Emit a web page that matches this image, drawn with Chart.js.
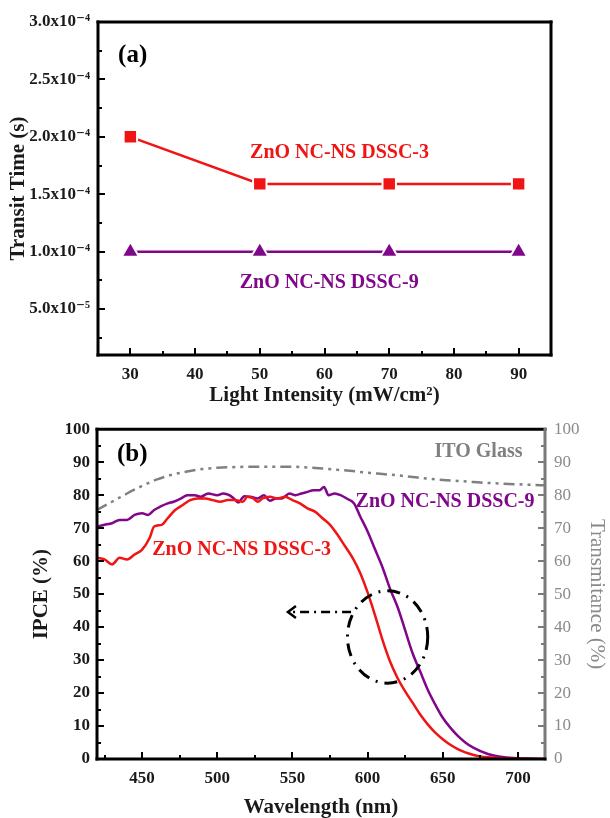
<!DOCTYPE html>
<html>
<head>
<meta charset="utf-8">
<script src="https://cdn.jsdelivr.net/npm/chart.js@4.4.0/dist/chart.umd.min.js"></script>
<style>
  html, body { margin: 0; padding: 0; background: #fff; }
  #chartA { position: absolute; left: 0; top: 0; }
  #chartB { position: absolute; left: 0; top: 410px; }
</style>
</head>
<body>
<canvas id="chartA" width="610" height="410"></canvas>
<canvas id="chartB" width="610" height="408"></canvas>
<script>
// (a) transit time vs light intensity
const intensity = [30, 50, 70, 90];
const transitDSSC3 = [2.0e-4, 1.59e-4, 1.59e-4, 1.59e-4];
const transitDSSC9 = [1.0e-4, 1.0e-4, 1.0e-4, 1.0e-4];
const intensityTicks = [30, 40, 50, 60, 70, 80, 90];
const intensityMinor = [35, 45, 55, 65, 75, 85];
const transitTicks = [5e-5, 1e-4, 1.5e-4, 2e-4, 2.5e-4, 3e-4];
const transitMinor = [2.5e-5, 7.5e-5, 1.25e-4, 1.75e-4, 2.25e-4, 2.75e-4];

// (b) IPCE / transmittance vs wavelength
const wlDSSC3 = [420,425,430,435,440,445,450,455,458,463,467,472,477,482,487,492,497,502,507,512,517,520,524,527,530,535,540,545,550,555,560,565,570,575,580,585,590,595,600,605,610,615,620,625,630,635,640,645,650,655,660,665,670,675,680,690,700,710,718];
const ipceDSSC3 = [61,60.5,59,61,60.5,62,63.5,67,70.5,71,73,75.5,77,78.5,79,79,78.5,78,78.5,78.5,78,79.5,79,78,79,79.5,79,79.5,78.5,77.5,76,75,73,71,68,64.5,61,56.5,50.5,43.5,36,29.5,24.5,20.5,17,13.5,10.5,8,6,4.3,3,2,1.3,0.8,0.5,0.2,0.1,0,0];
const wlDSSC9 = [420,425,430,435,440,445,450,454,458,462,467,471,476,480,485,489,494,500,504,508,511,514,518,522,527,531,535,539,543,548,552,556,560,564,568,571,574,578,582,586,591,595,600,605,610,615,620,625,630,635,640,645,650,655,660,665,670,680,690,700,710,718];
const ipceDSSC9 = [70.5,71,71.5,72.5,72.5,74,74.5,74,75.5,76.5,77.5,78,79,80,80,79.5,80.5,80,80.5,80,79,77.8,79.7,79.5,79,80,78.3,79,79,80.5,80,80.5,81,81.5,81.5,82.5,80,80.5,80,79,77.5,73.6,69,63.5,58,51.5,46,39,32,26.5,21,16.5,12.5,9.5,7,5,3.5,1.5,0.6,0.2,0.1,0];
const wlITO = [420,430,440,450,460,470,480,490,500,510,520,530,540,550,560,570,580,590,600,610,620,630,640,650,660,670,680,690,700,710,718];
const transITO = [75.5,78,80.5,82.8,84.8,86.2,87.2,87.9,88.3,88.5,88.6,88.6,88.6,88.6,88.4,88.1,87.7,87.3,86.8,86.4,86,85.5,85,84.6,84.3,84,83.7,83.5,83.3,83.1,83];
const wlTicks = [450, 500, 550, 600, 650, 700];
const wlMinor = [425, 475, 525, 575, 625, 675];
const pctTicks = [0, 10, 20, 30, 40, 50, 60, 70, 80, 90, 100];
const pctMinor = [5, 15, 25, 35, 45, 55, 65, 75, 85, 95];

const RED = '#f01414';
const PURPLE = '#80068a';
const GRAY = '#808080';
const SERIF = '"Liberation Serif", "DejaVu Serif", serif';

const toPoints = (xs, ys) => xs.map((x, i) => ({ x, y: ys[i] }));

// 3.0x10⁻⁴ style labels
function sciLabel(v) {
  const sup = { '-': '\u207B', '0': '\u2070', '1': '\u00B9', '2': '\u00B2', '3': '\u00B3', '4': '\u2074', '5': '\u2075', '6': '\u2076', '7': '\u2077', '8': '\u2078', '9': '\u2079' };
  const e = Math.floor(Math.log10(v) + 1e-9);
  const m = v / Math.pow(10, e);
  return m.toFixed(1) + 'x10' + String(e).split('').map(c => sup[c]).join('');
}

// box + inward ticks, drawn after everything
const framePlugin = {
  id: 'frame',
  afterDraw(chart, args, opts) {
    const { ctx, chartArea: a } = chart;
    ctx.save();
    (opts.ticks || []).forEach(t => {
      const s = chart.scales[t.axis];
      ctx.strokeStyle = t.color;
      ctx.lineWidth = 2;
      const mark = (v, len) => {
        const p = Math.round(s.getPixelForValue(v));
        ctx.beginPath();
        if (t.side === 'bottom') { ctx.moveTo(p, a.bottom); ctx.lineTo(p, a.bottom - len); }
        if (t.side === 'left') { ctx.moveTo(a.left, p); ctx.lineTo(a.left + len, p); }
        if (t.side === 'right') { ctx.moveTo(a.right, p); ctx.lineTo(a.right - len, p); }
        ctx.stroke();
      };
      t.major.forEach(v => mark(v, 7));
      t.minor.forEach(v => mark(v, 4));
    });
    const sides = opts.sides || {};
    const line = (x1, y1, x2, y2, c) => {
      ctx.strokeStyle = c;
      ctx.lineWidth = 3;
      ctx.beginPath(); ctx.moveTo(x1, y1); ctx.lineTo(x2, y2); ctx.stroke();
    };
    ctx.lineCap = 'square';
    line(a.left, a.top, a.right, a.top, sides.top || '#000');
    line(a.right, a.top, a.right, a.bottom, sides.right || '#000');
    line(a.left, a.bottom, a.right, a.bottom, sides.bottom || '#000');
    line(a.left, a.top, a.left, a.bottom, sides.left || '#000');
    ctx.restore();
  }
};

// text notes, ellipse and arrow placed in data units
const notesPlugin = {
  id: 'notes',
  afterDraw(chart, args, opts) {
    const { ctx } = chart;
    const xs = chart.scales.x;
    const ys = chart.scales.y;
    const px = v => xs.getPixelForValue(v);
    const py = v => ys.getPixelForValue(v);
    ctx.save();
    (opts.texts || []).forEach(t => {
      ctx.font = t.font;
      ctx.fillStyle = t.color;
      ctx.textAlign = t.align || 'left';
      ctx.textBaseline = 'middle';
      ctx.fillText(t.text, px(t.x), py(t.y));
    });
    if (opts.ellipse) {
      const e = opts.ellipse;
      const cx = px(e.x), cy = py(e.y);
      ctx.strokeStyle = '#000';
      ctx.lineWidth = 3;
      ctx.setLineDash([13, 7, 2, 7]);
      ctx.beginPath();
      ctx.ellipse(cx, cy, Math.abs(px(e.x + e.rx) - cx), Math.abs(py(e.y + e.ry) - cy), 0, 0, Math.PI * 2);
      ctx.stroke();
    }
    if (opts.arrow) {
      const r = opts.arrow;
      const x1 = px(r.from), x2 = px(r.to), y = py(r.y);
      ctx.strokeStyle = '#000';
      ctx.lineWidth = 2.5;
      ctx.setLineDash([9, 5, 2, 5]);
      ctx.beginPath(); ctx.moveTo(x1, y); ctx.lineTo(x2 + 3, y); ctx.stroke();
      ctx.setLineDash([]);
      ctx.beginPath();
      ctx.moveTo(x2 + 8, y - 6); ctx.lineTo(x2, y); ctx.lineTo(x2 + 8, y + 6);
      ctx.stroke();
    }
    ctx.restore();
  }
};

const tickFont = { family: SERIF, size: 17, weight: 'bold' };
const titleFont = { family: SERIF, size: 21, weight: 'bold', lineHeight: 1.2 };
const noteFont = 'bold 20px ' + SERIF;

function plainAxis(extra) {
  return Object.assign({
    type: 'linear',
    grid: { display: false, drawTicks: false },
    border: { display: false }
  }, extra);
}

// ---------- (a) ----------
new Chart(document.getElementById('chartA'), {
  type: 'line',
  data: {
    datasets: [
      {
        label: 'ZnO NC-NS DSSC-3',
        data: toPoints(intensity, transitDSSC3),
        borderColor: RED,
        backgroundColor: RED,
        borderWidth: 2.5,
        pointStyle: 'rect',
        pointRadius: 9.5,
        pointBorderColor: '#fff',
        pointBorderWidth: 2
      },
      {
        label: 'ZnO NC-NS DSSC-9',
        data: toPoints(intensity, transitDSSC9),
        borderColor: PURPLE,
        backgroundColor: PURPLE,
        borderWidth: 2.5,
        pointStyle: 'triangle',
        pointRadius: 10,
        pointBorderColor: '#fff',
        pointBorderWidth: 2
      }
    ]
  },
  options: {
    responsive: false,
    animation: false,
    layout: { padding: { top: 22, right: 59, left: 0, bottom: 0 } },
    plugins: {
      legend: { display: false },
      tooltip: { enabled: false },
      frame: {
        ticks: [
          { axis: 'x', side: 'bottom', color: '#000', major: intensityTicks, minor: intensityMinor },
          { axis: 'y', side: 'left', color: '#000', major: transitTicks, minor: transitMinor }
        ]
      },
      notes: {
        texts: [
          { text: '(a)', x: 28.1, y: 2.71e-4, color: '#000', font: 'bold 25px ' + SERIF },
          { text: 'ZnO NC-NS DSSC-3', x: 48.5, y: 1.86e-4, color: RED, font: noteFont },
          { text: 'ZnO NC-NS DSSC-9', x: 46.9, y: 7.27e-5, color: PURPLE, font: noteFont }
        ]
      }
    },
    scales: {
      x: plainAxis({
        position: 'bottom',
        min: 25, max: 95,
        afterFit: s => { s.height = 55; },
        afterBuildTicks: s => { s.ticks = intensityTicks.map(v => ({ value: v })); },
        ticks: { autoSkip: false, maxRotation: 0, padding: 9, color: '#1a1a1a', font: tickFont },
        title: { display: true, text: 'Light Intensity (mW/cm\u00B2)', color: '#1a1a1a', font: titleFont, padding: { top: 0, bottom: 2 } }
      }),
      y: plainAxis({
        position: 'left',
        min: 1e-5, max: 3e-4,
        afterFit: s => { s.width = 98; },
        afterBuildTicks: s => { s.ticks = transitTicks.map(v => ({ value: v })); },
        ticks: { autoSkip: false, padding: 8, color: '#1a1a1a', font: tickFont, callback: v => sciLabel(v) },
        title: { display: true, text: 'Transit Time (s)', color: '#1a1a1a', font: titleFont, padding: { top: 6, bottom: 0 } }
      })
    }
  },
  plugins: [framePlugin, notesPlugin]
});

// ---------- (b) ----------
new Chart(document.getElementById('chartB'), {
  type: 'line',
  data: {
    datasets: [
      {
        label: 'ZnO NC-NS DSSC-3',
        data: toPoints(wlDSSC3, ipceDSSC3),
        borderColor: RED,
        borderWidth: 2.5,
        pointRadius: 0,
        cubicInterpolationMode: 'monotone',
        yAxisID: 'y'
      },
      {
        label: 'ZnO NC-NS DSSC-9',
        data: toPoints(wlDSSC9, ipceDSSC9),
        borderColor: PURPLE,
        borderWidth: 2.5,
        pointRadius: 0,
        cubicInterpolationMode: 'monotone',
        yAxisID: 'y'
      },
      {
        label: 'ITO Glass',
        data: toPoints(wlITO, transITO),
        borderColor: GRAY,
        borderWidth: 2.5,
        borderDash: [11, 5, 3, 5, 3, 5],
        pointRadius: 0,
        cubicInterpolationMode: 'monotone',
        yAxisID: 'y2'
      }
    ]
  },
  options: {
    responsive: false,
    animation: false,
    layout: { padding: { top: 15, right: 0, left: 0, bottom: 0 } },
    plugins: {
      legend: { display: false },
      tooltip: { enabled: false },
      frame: {
        sides: { right: '#7a7a7a' },
        ticks: [
          { axis: 'x', side: 'bottom', color: '#000', major: wlTicks, minor: wlMinor },
          { axis: 'y', side: 'left', color: '#000', major: pctTicks, minor: pctMinor },
          { axis: 'y2', side: 'right', color: '#7a7a7a', major: pctTicks, minor: pctMinor }
        ]
      },
      notes: {
        texts: [
          { text: '(b)', x: 433.3, y: 92.2, color: '#000', font: 'bold 25px ' + SERIF },
          { text: 'ITO Glass', x: 703, y: 93, color: GRAY, font: noteFont, align: 'right' },
          { text: 'ZnO NC-NS DSSC-9', x: 592, y: 78, color: PURPLE, font: noteFont },
          { text: 'ZnO NC-NS DSSC-3', x: 456.7, y: 63.5, color: RED, font: noteFont }
        ],
        ellipse: { x: 613.3, y: 37, rx: 26.7, ry: 14 },
        arrow: { from: 589, to: 547, y: 44.6 }
      }
    },
    scales: {
      x: plainAxis({
        position: 'bottom',
        min: 420, max: 718,
        afterFit: s => { s.height = 59; },
        afterBuildTicks: s => { s.ticks = wlTicks.map(v => ({ value: v })); },
        ticks: { autoSkip: false, maxRotation: 0, padding: 9, color: '#1a1a1a', font: tickFont },
        title: { display: true, text: 'Wavelength (nm)', color: '#1a1a1a', font: Object.assign({}, titleFont, { lineHeight: 1 }), padding: { top: 0, bottom: 0 } }
      }),
      y: plainAxis({
        position: 'left',
        min: 0, max: 100,
        afterFit: s => { s.width = 97; },
        afterBuildTicks: s => { s.ticks = pctTicks.map(v => ({ value: v })); },
        ticks: { autoSkip: false, padding: 7, color: '#1a1a1a', font: tickFont },
        title: { display: true, text: 'IPCE (%)', color: '#1a1a1a', font: titleFont, padding: { top: 29, bottom: 0 } }
      }),
      y2: plainAxis({
        position: 'right',
        min: 0, max: 100,
        afterFit: s => { s.width = 65; },
        afterBuildTicks: s => { s.ticks = pctTicks.map(v => ({ value: v })); },
        ticks: { autoSkip: false, padding: 9, color: '#8a8a8a', font: { family: SERIF, size: 17 } },
        title: { display: true, text: 'Transmitance (%)', color: '#8a8a8a', font: { family: SERIF, size: 21, lineHeight: 1.2 }, padding: { top: 1, bottom: 0 } }
      })
    }
  },
  plugins: [framePlugin, notesPlugin]
});
</script>
</body>
</html>
